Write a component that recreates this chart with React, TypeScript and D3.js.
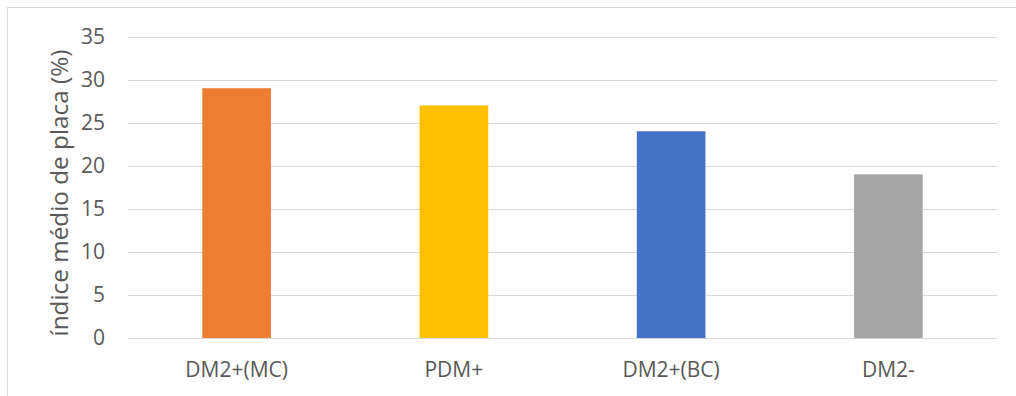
import React from "react";
import * as d3 from "d3";

const categories: string[] = ["DM2+(MC)", "PDM+", "DM2+(BC)", "DM2-"];
const values: number[] = [29, 27, 24, 19];
const barColors: string[] = ["#ED7D31", "#FFC000", "#4472C4", "#A5A5A5"];
const yTicks: number[] = [0, 5, 10, 15, 20, 25, 30, 35];
const yTitle = "índice médio de placa (%)";

const W = 1016;
const H = 396;
const FONT = "'Open Sans', 'DejaVu Sans', sans-serif";
const TEXT = "#595959";
const GRID = "#D9D9D9";

export default function App() {
  const x = d3
    .scaleBand<string>()
    .domain(categories)
    .range([128, 997])
    .paddingInner(0.684)
    .paddingOuter(0.342);
  const band = d3.scaleBand<string>().domain(categories).range([128, 997]);
  const y = d3.scaleLinear().domain([0, 35]).range([338, 36.5]);

  return (
    <svg
      width={W}
      height={H}
      style={{ position: "absolute", left: 0, top: 0, background: "#fff" }}
    >
      <rect x={0} y={0} width={W} height={H} fill="#fff" />
      <rect x={7.5} y={7.5} width={W + 50} height={H + 50} fill="none" stroke={GRID} strokeWidth={1} />
      {yTicks.map((t) => (
        <g key={t}>
          <line
            x1={128}
            x2={997}
            y1={Math.round(y(t)) + 0.5}
            y2={Math.round(y(t)) + 0.5}
            stroke={GRID}
            strokeWidth={1}
          />
          <text
            x={105}
            y={y(t)}
            dy="0.357em"
            textAnchor="end"
            fontFamily={FONT}
            fontSize={21}
            fill={TEXT}
          >
            {t}
          </text>
        </g>
      ))}
      {categories.map((c, i) => (
        <rect
          key={c}
          x={x(c)}
          width={x.bandwidth()}
          y={y(values[i])}
          height={y(0) - y(values[i])}
          fill={barColors[i]}
        />
      ))}
      {categories.map((c) => (
        <text
          key={c}
          x={(band(c) as number) + band.bandwidth() / 2}
          y={377}
          textAnchor="middle"
          fontFamily={FONT}
          fontSize={21}
          fill={TEXT}
        >
          {c}
        </text>
      ))}
      <text
        transform={`translate(68,193) rotate(-90)`}
        textAnchor="middle"
        fontFamily={FONT}
        fontSize={23}
        fill={TEXT}
        textLength={287}
        lengthAdjust="spacingAndGlyphs"
      >
        {yTitle}
      </text>
    </svg>
  );
}
